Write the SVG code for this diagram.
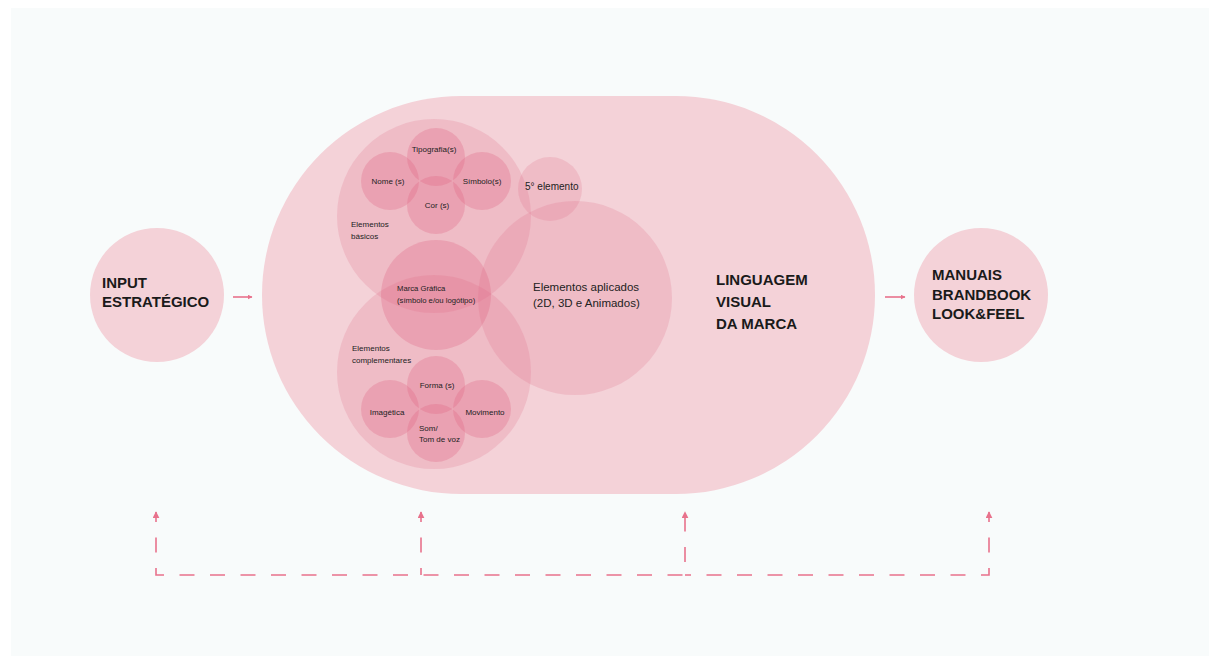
<svg xmlns="http://www.w3.org/2000/svg" width="1209" height="664" viewBox="0 0 1209 664">
  <defs>
    <style>
      .t { font-family: "Liberation Sans", Arial, sans-serif; fill: #222; }
      .s { font-size: 8px; }
      .xs { font-size: 7.7px; }
      .b { font-size: 15px; font-weight: bold; fill: #1a1a1a; }
      .outer { fill: #f4d2d8; }
      .mid { fill: #e06e88; fill-opacity: 0.22; }
      .small { fill: #dd5f7d; fill-opacity: 0.28; }
      .conn { fill: none; stroke: #e8728c; stroke-width: 1.6; }
      .dash { stroke-dasharray: 15 15.5; }
    </style>
    <marker id="ah" viewBox="0 0 10 10" refX="9" refY="5" markerWidth="5" markerHeight="5" orient="auto-start-reverse" markerUnits="userSpaceOnUse">
      <path d="M0,0 L10,5 L0,10 z" fill="#e8728c"/>
    </marker>
    <marker id="ah2" viewBox="0 0 10 10" refX="9" refY="5" markerWidth="7" markerHeight="7" orient="auto-start-reverse" markerUnits="userSpaceOnUse">
      <path d="M0,0 L10,5 L0,10 z" fill="#e8728c"/>
    </marker>
  </defs>

  <rect x="0" y="0" width="1209" height="664" fill="#ffffff"/>
  <rect x="11" y="8" width="1198" height="648" fill="#f8fbfb"/>

  <g id="input">
    <circle class="outer" cx="157" cy="295" r="67"/>
    <text class="t b" x="102" y="288">INPUT</text>
    <text class="t b" x="102" y="307">ESTRATÉGICO</text>
  </g>

  <g id="linguagem">
    <rect class="outer" x="262" y="96" width="613" height="398" rx="199" ry="199"/>
    <text class="t b" x="716" y="285">LINGUAGEM</text>
    <text class="t b" x="716" y="307">VISUAL</text>
    <text class="t b" x="716" y="329">DA MARCA</text>
  </g>

  <g id="elementos-basicos">
    <circle class="mid" cx="434" cy="216" r="97"/>
    <text class="t s" x="351" y="227">Elementos</text>
    <text class="t s" x="351" y="239">básicos</text>
  </g>

  <g id="elementos-complementares">
    <circle class="mid" cx="434" cy="372" r="97"/>
    <text class="t s" x="352" y="351">Elementos</text>
    <text class="t s" x="352" y="363">complementares</text>
  </g>

  <g id="elementos-aplicados">
    <circle class="mid" cx="575" cy="298" r="97"/>
    <text class="t" font-size="11.5" x="533" y="291">Elementos aplicados</text>
    <text class="t" font-size="11.5" x="533" y="307">(2D, 3D e Animados)</text>
  </g>

  <g id="quinto-elemento">
    <circle class="mid" cx="550" cy="189" r="32"/>
    <text class="t" font-size="10" x="525" y="190">5° elemento</text>
  </g>

  <g id="marca-grafica">
    <circle class="small" cx="436" cy="295" r="55"/>
    <text class="t xs" x="397" y="291">Marca Gráfica</text>
    <text class="t xs" x="397" y="303">(símbolo e/ou logótipo)</text>
  </g>

  <g id="tipografia">
    <circle class="small" cx="436" cy="157" r="29"/>
    <text class="t s" x="434" y="152" text-anchor="middle">Tipografia(s)</text>
  </g>
  <g id="nome">
    <circle class="small" cx="390" cy="181" r="29"/>
    <text class="t s" x="388" y="184" text-anchor="middle">Nome (s)</text>
  </g>
  <g id="simbolo">
    <circle class="small" cx="482" cy="181" r="29"/>
    <text class="t s" x="482" y="184" text-anchor="middle">Símbolo(s)</text>
  </g>
  <g id="cor">
    <circle class="small" cx="436" cy="205" r="29"/>
    <text class="t s" x="437" y="208" text-anchor="middle">Cor (s)</text>
  </g>

  <g id="forma">
    <circle class="small" cx="436" cy="385" r="29"/>
    <text class="t s" x="437" y="388" text-anchor="middle">Forma (s)</text>
  </g>
  <g id="imagetica">
    <circle class="small" cx="390" cy="409" r="29"/>
    <text class="t s" x="387" y="415" text-anchor="middle">Imagética</text>
  </g>
  <g id="movimento">
    <circle class="small" cx="482" cy="409" r="29"/>
    <text class="t s" x="485" y="415" text-anchor="middle">Movimento</text>
  </g>
  <g id="som">
    <circle class="small" cx="436" cy="433" r="29"/>
    <text class="t s" x="419" y="431">Som/</text>
    <text class="t s" x="419" y="442">Tom de voz</text>
  </g>

  <g id="manuais">
    <circle class="outer" cx="981" cy="295" r="67"/>
    <text class="t b" x="932" y="280">MANUAIS</text>
    <text class="t b" x="932" y="300">BRANDBOOK</text>
    <text class="t b" x="932" y="319">LOOK&amp;FEEL</text>
  </g>

  <g id="connectors">
    <path class="conn" d="M233,297 H252" marker-end="url(#ah)"/>
    <path class="conn" d="M885,297 H905" marker-end="url(#ah)"/>
    <path class="conn dash" d="M156,512 V575 H685 V512" stroke-dashoffset="5" marker-start="url(#ah2)" marker-end="url(#ah2)"/>
    <path class="conn dash" d="M989,512 V575 H685" stroke-dashoffset="5" marker-start="url(#ah2)"/>
    <path class="conn dash" d="M421,512 V575" stroke-dashoffset="5" marker-start="url(#ah2)"/>
  </g>
</svg>
